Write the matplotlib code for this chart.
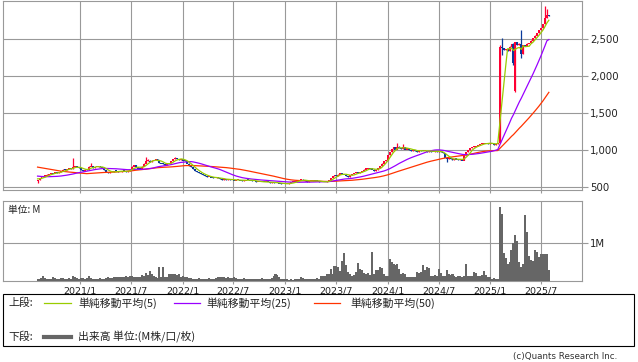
import numpy as np
import pandas as pd
import matplotlib
matplotlib.use("Agg")
import matplotlib.pyplot as plt
import matplotlib.dates as mdates
from matplotlib.lines import Line2D
from matplotlib.patches import Rectangle

plt.rcParams['font.family'] = ['DejaVu Sans', 'Noto Sans CJK JP']

# weekly bars, first week starts 2020-08-03
start = "2020-08-03"

# closes (yen)
close = [
    600, 625, 640, 650, 655, 670, 680, 690, 685, 700,
    690, 710, 720, 740, 730, 750, 760, 745, 770, 790,
    770, 760, 730, 720, 740, 735, 780, 790, 760, 770,
    775, 780, 770, 760, 730, 700, 690, 700, 710, 720,
    715, 705, 710, 720, 715, 710, 720, 740, 780, 800,
    770, 750, 740, 780, 820, 850, 860, 840, 860, 870,
    880, 850, 830, 820, 810, 800, 820, 830, 850, 880,
    890, 880, 870, 880, 860, 850, 820, 790, 770, 750,
    720, 700, 690, 680, 660, 650, 640, 640, 630, 625,
    620, 630, 620, 610, 600, 605, 600, 610, 600, 595,
    590, 595, 600, 590, 585, 590, 600, 595, 590, 585,
    580, 575, 575, 570, 570, 565, 570, 565, 560, 565,
    560, 555, 555, 550, 545, 545, 540, 545, 560, 565,
    565, 570, 590, 600, 605, 590, 580, 575, 580, 585,
    590, 585, 580, 575, 570, 565, 570, 580, 590, 620,
    650, 660, 655, 670, 690, 680, 670, 650, 640, 660,
    680, 690, 700, 690, 700, 720, 740, 750, 760, 750,
    740, 720, 730, 760, 790, 820, 850, 870, 930, 980,
    1020, 1040, 1010, 1050, 1030, 1020, 1040, 1010, 1030, 1000,
    990, 1000, 990, 980, 1000, 990, 985, 990, 980, 990,
    980, 975, 985, 980, 990, 970, 960, 900, 880, 890,
    880, 870, 880, 875, 870, 880, 860, 930, 980, 1000,
    1030, 1040, 1050, 1060, 1070, 1080, 1090, 1100, 1090, 1080,
    1100, 1090, 1070, 1080, 1100, 2400, 2380, 2350, 2370, 2340,
    2400, 2430, 2180, 2460, 2420, 2440, 2300, 2420, 2400, 2440,
    2450, 2480, 2520, 2550, 2580, 2620, 2650, 2700, 2780, 2830, 2810,
]
first_open = 580
open_gap = {243: 1800}
wick_hi = {18: 890, 27: 820, 55: 900, 56: 880, 70: 905, 183: 1090, 186: 1080,
           235: 2420, 236: 2510, 242: 2450, 246: 2620, 258: 2940, 259: 2900}
wick_lo = {0: 560, 208: 840, 236: 2290, 242: 2150, 243: 1790, 246: 2250}

# closes before the window, only used to warm up the moving averages
pre_close = [
    860, 870, 880, 890, 900, 910, 920, 930, 940, 930, 920, 910, 900,
    890, 880, 880, 870, 870, 880, 890, 890, 880, 870, 860, 850,
    700, 690, 690, 680, 680, 670, 670, 665, 660, 660, 655, 650,
    650, 645, 640, 635, 630, 630, 625, 620, 620, 615, 610, 610,
]

# volume (M shares)
volume = [
    0.05, 0.04, 0.06, 0.13, 0.07, 0.04, 0.05, 0.04, 0.08, 0.06,
    0.04, 0.05, 0.06, 0.07, 0.05, 0.04, 0.06, 0.05, 0.11, 0.10,
    0.06, 0.05, 0.07, 0.06, 0.05, 0.06, 0.13, 0.07, 0.05, 0.04,
    0.05, 0.04, 0.06, 0.05, 0.04, 0.06, 0.10, 0.06, 0.07, 0.08,
    0.09, 0.08, 0.10, 0.09, 0.08, 0.11, 0.09, 0.12, 0.13, 0.10,
    0.08, 0.09, 0.10, 0.15, 0.12, 0.21, 0.14, 0.25, 0.18, 0.13,
    0.10, 0.07, 0.35, 0.10, 0.35, 0.08, 0.09, 0.16, 0.17, 0.16,
    0.16, 0.15, 0.16, 0.10, 0.11, 0.10, 0.08, 0.07, 0.06, 0.05,
    0.04, 0.05, 0.06, 0.04, 0.03, 0.05, 0.04, 0.06, 0.05, 0.04,
    0.05, 0.06, 0.09, 0.10, 0.08, 0.10, 0.07, 0.09, 0.06, 0.07,
    0.10, 0.06, 0.05, 0.04, 0.05, 0.06, 0.04, 0.03, 0.04, 0.05,
    0.04, 0.03, 0.05, 0.04, 0.06, 0.03, 0.04, 0.05, 0.04, 0.07,
    0.12, 0.17, 0.14, 0.10, 0.05, 0.03, 0.04, 0.03, 0.02, 0.03,
    0.02, 0.03, 0.04, 0.05, 0.10, 0.06, 0.03, 0.04, 0.05, 0.03,
    0.04, 0.05, 0.06, 0.05, 0.12, 0.13, 0.12, 0.18, 0.17, 0.31,
    0.18, 0.39, 0.38, 0.36, 0.25, 0.53, 0.72, 0.40, 0.22, 0.18,
    0.13, 0.14, 0.22, 0.46, 0.30, 0.27, 0.20, 0.18, 0.21, 0.15,
    0.75, 0.16, 0.28, 0.27, 0.35, 0.33, 0.16, 0.13, 0.12, 0.57,
    0.49, 0.44, 0.42, 0.44, 0.31, 0.18, 0.20, 0.17, 0.10, 0.08,
    0.09, 0.10, 0.08, 0.22, 0.20, 0.22, 0.42, 0.27, 0.35, 0.33,
    0.13, 0.12, 0.14, 0.13, 0.31, 0.20, 0.13, 0.12, 0.27, 0.16,
    0.15, 0.16, 0.12, 0.10, 0.13, 0.11, 0.10, 0.12, 0.44, 0.13,
    0.12, 0.13, 0.22, 0.20, 0.13, 0.12, 0.14, 0.25, 0.15, 0.10,
    0.09, 0.05, 0.06, 0.05, 0.04, 1.95, 1.77, 0.73, 0.60, 0.44,
    0.50, 0.81, 1.00, 1.20, 1.06, 0.49, 0.37, 0.45, 1.73, 1.28,
    0.64, 0.55, 0.53, 0.80, 0.75, 0.62, 0.71, 0.70, 0.71, 0.71, 0.28,
]

tick_dates = ["2021-01-01", "2021-07-01", "2022-01-01", "2022-07-01", "2023-01-01",
              "2023-07-01", "2024-01-01", "2024-07-01", "2025-01-01", "2025-07-01"]
tick_labels = ["2021/1", "2021/7", "2022/1", "2022/7", "2023/1",
               "2023/7", "2024/1", "2024/7", "2025/1", "2025/7"]
price_ticks = [500, 1000, 1500, 2000, 2500]

n = len(close)
dates = pd.date_range(start, periods=n, freq="W-MON")
x = mdates.date2num(dates)
c = np.array(close, dtype=float)
o = np.r_[first_open, c[:-1]]
for k, v in open_gap.items():
    o[k] = v
hi = np.maximum(o, c)
lo = np.minimum(o, c)
for k, v in wick_hi.items():
    hi[k] = v
for k, v in wick_lo.items():
    lo[k] = v

full = pd.Series(pre_close + close, dtype=float)
ma5 = full.rolling(5).mean().values[-n:]
ma25 = full.rolling(25).mean().values[-n:]
ma50 = full.rolling(50).mean().values[-n:]

RED = "#ff0033"
BLUE = "#0a3a9a"
GRID = "#999999"

fig = plt.figure(figsize=(6.38, 3.62), dpi=100)
W, H = 638.0, 362.0
ax1 = fig.add_axes([3 / W, 1 - 189.5 / H, 579 / W, 189 / H])
ax2 = fig.add_axes([3 / W, 1 - 280.5 / H, 579 / W, 79.5 / H])

xlim = mdates.date2num(pd.to_datetime(["2020-04-02", "2025-11-23"]))
tpos = mdates.date2num(pd.to_datetime(tick_dates))

for ax in (ax1, ax2):
    ax.set_xlim(*xlim)
    ax.set_xticks(tpos)
    ax.grid(True, color=GRID, linewidth=0.8)
    ax.set_axisbelow(True)
    for s in ax.spines.values():
        s.set_color(GRID)
        s.set_linewidth(0.8)
    ax.yaxis.tick_right()
    ax.tick_params(axis="y", which="both", left=False, right=True, length=4,
                   color=GRID, width=0.8, labelsize=7.3, pad=2, labelcolor="#222222")
    ax.tick_params(axis="x", length=2, color=GRID, width=0.8)

# candles
up = c >= o
cols = np.where(up, RED, BLUE)
body_lo = np.minimum(o, c)
body_h = np.maximum(np.abs(c - o), 14)
ax1.vlines(x, lo, hi, colors=cols, linewidth=0.9, zorder=3)
ax1.bar(x, body_h, bottom=body_lo - 3, width=7, color=cols, linewidth=0, zorder=3)
ax1.plot(x, ma50, color="#ff3300", linewidth=0.9, zorder=4)
ax1.plot(x, ma25, color="#9900ff", linewidth=0.9, zorder=4)
ax1.plot(x, ma5, color="#99cc00", linewidth=0.9, zorder=5)
ax1.set_ylim(467, 3020)
ax1.set_yticks(price_ticks)
ax1.set_yticklabels([f"{v:,}" for v in price_ticks])
ax1.tick_params(axis="x", labelbottom=False)

# volume
ax2.bar(x, volume, width=7.2, color="#666666", linewidth=0, zorder=3)
ax2.set_ylim(0, 2.11)
ax2.set_yticks([1])
ax2.set_yticklabels(["1M"])
ax2.set_xticklabels(tick_labels, fontsize=6.8, color="#222222")
ax2.tick_params(axis="x", pad=2)
ax2.text(5 / 579, 1 - 9 / 79.5, "単位: M", transform=ax2.transAxes, fontsize=7,
         va="center", ha="left", family=["Noto Sans CJK JP", "DejaVu Sans"], color="#222222")

# legend panel in pixel coordinates
lg = fig.add_axes([0, 0, 1, 1], facecolor="none")
lg.set_xlim(0, W)
lg.set_ylim(H, 0)
lg.axis("off")
lg.add_patch(Rectangle((3, 294), 631, 52, fill=False, edgecolor="black", linewidth=0.8))
jp = dict(fontsize=7.8, va="center", ha="left", family=["Noto Sans CJK JP", "DejaVu Sans"],
          color="#222222")
lg.text(8, 303, "上段:", **jp)
lg.add_line(Line2D([44, 71], [303, 303], color="#99cc00", linewidth=0.9))
lg.text(78, 303, "単純移動平均(5)", **jp)
lg.add_line(Line2D([174, 200], [303, 303], color="#9900ff", linewidth=0.9))
lg.text(206, 303, "単純移動平均(25)", **jp)
lg.add_line(Line2D([314, 340], [303, 303], color="#ff3300", linewidth=0.9))
lg.text(350, 303, "単純移動平均(50)", **jp)
lg.text(8, 337, "下段:", **jp)
lg.add_line(Line2D([44, 71], [337, 337], color="#666666", linewidth=3))
lg.text(78, 337, "出来高 単位:(M株/口/枚)", **jp)
lg.text(617, 357, "(c)Quants Research Inc.", fontsize=6.3, va="center", ha="right",
        color="#333333")

fig.savefig("out.png", dpi=100)
